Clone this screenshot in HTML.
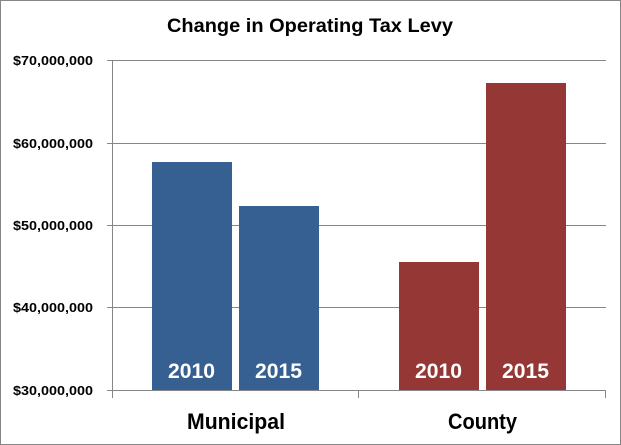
<!DOCTYPE html>
<html><head><meta charset="utf-8"><style>
html,body{margin:0;padding:0;background:#fff;}
svg{display:block;}
text{font-family:"Liberation Sans",sans-serif;font-weight:bold;}
</style></head><body>
<svg width="621" height="445" viewBox="0 0 621 445" xmlns="http://www.w3.org/2000/svg">
<rect x="0" y="0" width="621" height="445" fill="#fff"/>
<rect x="0.5" y="0.5" width="620" height="444" fill="none" stroke="#868686" stroke-width="1"/>
<text x="310" y="32" font-size="19" text-anchor="middle" textLength="286" lengthAdjust="spacingAndGlyphs" fill="#000">Change in Operating Tax Levy</text>
<g stroke="#868686" stroke-width="1" fill="none">
<line x1="107" y1="60.5" x2="606" y2="60.5"/>
<line x1="107" y1="143.5" x2="606" y2="143.5"/>
<line x1="107" y1="225.5" x2="606" y2="225.5"/>
<line x1="107" y1="307.5" x2="606" y2="307.5"/>
<line x1="107" y1="390.5" x2="606" y2="390.5"/>
<line x1="112.5" y1="60" x2="112.5" y2="398"/>
<line x1="358.5" y1="390" x2="358.5" y2="398"/>
<line x1="605.5" y1="390" x2="605.5" y2="398"/>
</g>
<g font-size="13" fill="#000" text-anchor="end">
<text x="93" y="65" textLength="80" lengthAdjust="spacingAndGlyphs">$70,000,000</text>
<text x="93" y="148" textLength="80" lengthAdjust="spacingAndGlyphs">$60,000,000</text>
<text x="93" y="230" textLength="80" lengthAdjust="spacingAndGlyphs">$50,000,000</text>
<text x="93" y="312" textLength="80" lengthAdjust="spacingAndGlyphs">$40,000,000</text>
<text x="93" y="395" textLength="80" lengthAdjust="spacingAndGlyphs">$30,000,000</text>
</g>
<rect x="152" y="162" width="80" height="228" fill="#376092"/>
<rect x="239" y="206" width="80" height="184" fill="#376092"/>
<rect x="399" y="262" width="80" height="128" fill="#953735"/>
<rect x="486" y="83" width="80" height="307" fill="#953735"/>
<g font-size="21" fill="#fff" text-anchor="middle">
<text x="191.5" y="378" textLength="47" lengthAdjust="spacingAndGlyphs">2010</text>
<text x="278.5" y="378" textLength="47" lengthAdjust="spacingAndGlyphs">2015</text>
<text x="438.5" y="378" textLength="47" lengthAdjust="spacingAndGlyphs">2010</text>
<text x="525.5" y="378" textLength="47" lengthAdjust="spacingAndGlyphs">2015</text>
</g>
<g font-size="22" fill="#000" text-anchor="middle">
<text x="236" y="429" textLength="98" lengthAdjust="spacingAndGlyphs">Municipal</text>
<text x="482.5" y="429" textLength="69" lengthAdjust="spacingAndGlyphs">County</text>
</g>
</svg>
</body></html>
